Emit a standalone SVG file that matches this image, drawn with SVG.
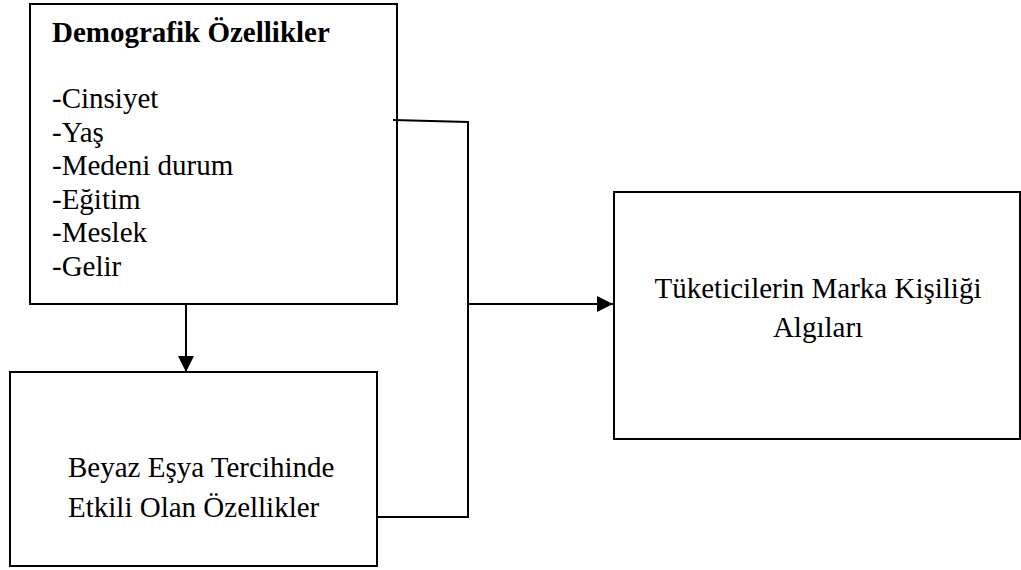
<svg xmlns="http://www.w3.org/2000/svg" width="1021" height="570" viewBox="0 0 1021 570">
<style>
.box{fill:#fff;stroke:#000;stroke-width:2}
.t{font-family:"Liberation Serif","Times New Roman",serif;font-size:29px;fill:#000}
.b{font-weight:bold}
.c{fill:none;stroke:#000;stroke-width:2}
</style>
<defs>
<marker id="ah" viewBox="0 0 16 16" refX="16" refY="8" markerWidth="16" markerHeight="16" markerUnits="userSpaceOnUse" orient="auto">
<path d="M0,0 L16,8 L0,16 Z" fill="#000"/>
</marker>
</defs>
<rect width="1021" height="570" fill="#fff"/>
<g id="node-demografik">
<rect class="box" x="30" y="4" width="367" height="300"/>
<text class="t b" x="52" y="42">Demografik Özellikler</text>
<text class="t" x="52" y="108">-Cinsiyet</text>
<text class="t" x="52" y="141.5">-Yaş</text>
<text class="t" x="52" y="175">-Medeni durum</text>
<text class="t" x="52" y="208.5">-Eğitim</text>
<text class="t" x="52" y="242">-Meslek</text>
<text class="t" x="52" y="275.5">-Gelir</text>
</g>
<g id="node-beyaz-esya">
<rect class="box" x="10" y="372" width="367" height="194"/>
<text class="t" x="68" y="477">Beyaz Eşya Tercihinde</text>
<text class="t" x="68" y="517">Etkili Olan Özellikler</text>
</g>
<g id="node-marka">
<rect class="box" x="614" y="192" width="406" height="247"/>
<text class="t" x="818" y="298" text-anchor="middle">Tüketicilerin Marka Kişiliği</text>
<text class="t" x="818" y="337" text-anchor="middle">Algıları</text>
</g>
<g id="connectors">
<line class="c" x1="186" y1="304" x2="186" y2="372" marker-end="url(#ah)"/>
<polyline class="c" points="393,120 468,122 468,517 378,517"/>
<line class="c" x1="468" y1="304" x2="613" y2="304" marker-end="url(#ah)"/>
</g>
</svg>
